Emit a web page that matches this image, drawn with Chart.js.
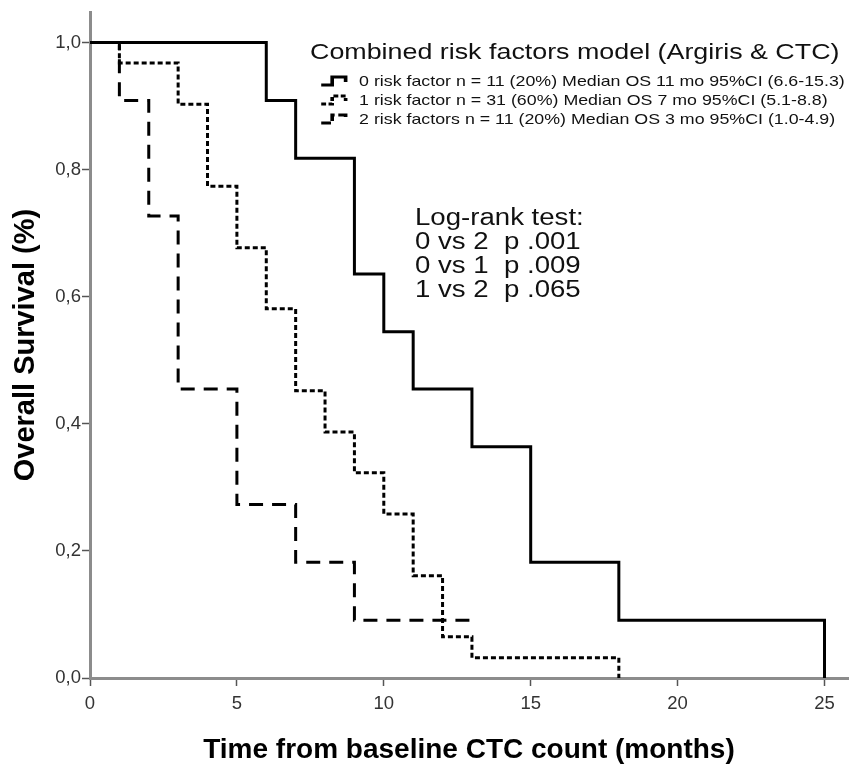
<!DOCTYPE html>
<html>
<head>
<meta charset="utf-8">
<script src="https://cdn.jsdelivr.net/npm/chart.js@4.4.1/dist/chart.umd.min.js"></script>
<style>
  body { margin: 0; background: #fff; }
  #wrap { position: relative; width: 851px; height: 764px; }
  .note { position: absolute; font-family: "Liberation Sans", Arial, sans-serif; color: #111; white-space: nowrap; transform-origin: 0 50%; }
  #legTitle { left: 310px; top: 39px; font-size: 22px; transform: scaleX(1.22); }
  .leg { left: 320px; font-size: 14.6px; display: flex; align-items: center; transform: scaleX(1.22); }
  .leg svg { margin-right: 8px; }
  #logrank { left: 415px; top: 205px; font-size: 23px; line-height: 24px; transform: scaleX(1.2); }
</style>
</head>
<body>
<div id="wrap">
  <canvas id="km"></canvas>
  <div class="note" id="legTitle">Combined risk factors model (Argiris &amp; CTC)</div>
  <div class="note leg" id="leg0" style="top:73px"></div>
  <div class="note leg" id="leg1" style="top:92px"></div>
  <div class="note leg" id="leg2" style="top:111px"></div>
  <div class="note" id="logrank">Log-rank test:<br>0 vs 2&nbsp; p .001<br>0 vs 1&nbsp; p .009<br>1 vs 2&nbsp; p .065</div>
</div>
<script>
// Kaplan-Meier estimates
const months0 = [0, 6, 7, 9, 10, 11, 13, 15, 18, 25];
const surv0 = [1, 0.909, 0.818, 0.636, 0.545, 0.455, 0.364, 0.182, 0.091, 0];

const months1 = [0, 1, 3, 4, 5, 6, 7, 8, 9, 10, 11, 12, 13, 18];
const surv1 = [1, 0.968, 0.903, 0.774, 0.677, 0.581, 0.452, 0.387, 0.323, 0.258, 0.161, 0.065, 0.032, 0];

const months2 = [0, 1, 2, 3, 5, 7, 9, 13];
const surv2 = [1, 0.909, 0.727, 0.455, 0.273, 0.182, 0.091, 0.091];

const groupLabels = [
  '0 risk factor n = 11 (20%) Median OS 11 mo 95%CI (6.6-15.3)',
  '1 risk factor n = 31 (60%) Median OS 7 mo 95%CI (5.1-8.8)',
  '2 risk factors n = 11 (20%) Median OS 3 mo 95%CI (1.0-4.9)'
];
const xTicks = [0, 5, 10, 15, 20, 25];
const yTicks = [0, 0.2, 0.4, 0.6, 0.8, 1.0];

const dashes = [[], [5, 3], [14, 9]];

const toPoints = (xs, ys) => xs.map((x, i) => ({ x: x, y: ys[i] }));

// legend rows with little step icons
[0, 1, 2].forEach(i => {
  const el = document.getElementById('leg' + i);
  const da = dashes[i].length ? ' stroke-dasharray="' + (i === 1 ? '4 2' : '8 3') + '"' : '';
  el.innerHTML = '<svg width="24" height="14"><polyline points="1,11 10,11 10,3 21,3 21,8" fill="none" stroke="#000" stroke-width="3"' + da + '/></svg>' + groupLabels[i];
});

const tickFont = { family: '"Liberation Sans", Arial, sans-serif', size: 18.5 };
const xTitleFont = { family: '"Liberation Sans", Arial, sans-serif', size: 28, weight: 'bold', lineHeight: 1 };
const yTitleFont = { family: '"Liberation Sans", Arial, sans-serif', size: 29, weight: 'bold' };

new Chart(document.getElementById('km'), {
  type: 'line',
  data: {
    datasets: [
      { label: groupLabels[0], data: toPoints(months0, surv0), borderDash: dashes[0] },
      { label: groupLabels[1], data: toPoints(months1, surv1), borderDash: dashes[1] },
      { label: groupLabels[2], data: toPoints(months2, surv2), borderDash: dashes[2] }
    ].map(d => Object.assign(d, {
      stepped: 'before',
      borderColor: '#000',
      borderWidth: 3,
      pointRadius: 0,
      fill: false
    }))
  },
  options: {
    responsive: true,
    maintainAspectRatio: false,
    animation: false,
    layout: { padding: { top: 8, right: 3, left: 0, bottom: 0 } },
    plugins: { legend: { display: false }, tooltip: { enabled: false } },
    scales: {
      x: {
        type: 'linear',
        min: 0,
        max: 25.8,
        afterBuildTicks: s => { s.ticks = xTicks.map(v => ({ value: v })); },
        afterFit: s => { s.height = 86; },
        border: { color: '#8c8c8c', width: 3 },
        grid: { drawOnChartArea: false, tickLength: 8, tickColor: '#555', tickWidth: 1.5 },
        ticks: { color: '#333', font: tickFont, padding: 7 },
        title: { display: true, text: 'Time from baseline CTC count (months)', color: '#000', font: xTitleFont, padding: { top: 8, bottom: 0 } }
      },
      y: {
        min: 0,
        max: 1.048,
        afterBuildTicks: s => { s.ticks = yTicks.map(v => ({ value: v })); },
        afterFit: s => { s.width = 90; },
        border: { color: '#8c8c8c', width: 3 },
        grid: { drawOnChartArea: false, tickLength: 8, tickColor: '#555', tickWidth: 1.5 },
        ticks: { color: '#333', font: tickFont, padding: 1, callback: v => v.toFixed(1).replace('.', ',') },
        title: { display: true, text: 'Overall Survival (%)', color: '#000', font: yTitleFont, padding: { top: 9, bottom: 0 } }
      }
    }
  }
});
</script>
</body>
</html>
